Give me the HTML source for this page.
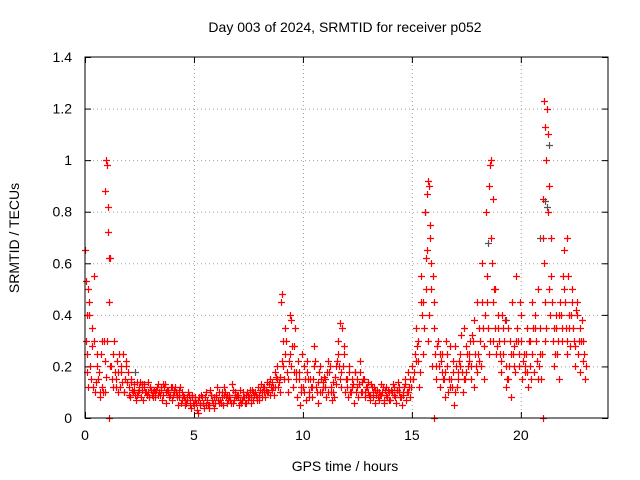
<!DOCTYPE html>
<html><head><meta charset="utf-8"><style>
body{margin:0;background:#fff;}
svg{display:block;font-family:"Liberation Sans",sans-serif;}
</style></head><body>
<svg id="chart" width="640" height="480" viewBox="0 0 640 480">
<text x="345" y="32" font-size="14" text-anchor="middle">Day 003 of 2024, SRMTID for receiver p052</text>
<text transform="translate(19,238) rotate(-90)" font-size="14" text-anchor="middle">SRMTID / TECUs</text>
<text x="345" y="471" font-size="14" text-anchor="middle">GPS time / hours</text>
<g id="grid"></g><g id="ticks"></g><g id="marks"></g>
<rect x="85" y="57" width="523" height="361" fill="none" stroke="#000" stroke-width="1"/>
</svg>
<script>
const xTicks=[0,5,10,15,20];
const yTicks=[0,0.2,0.4,0.6,0.8,1,1.2,1.4];
const yTickLabels=["0","0.2","0.4","0.6","0.8","1","1.2","1.4"];
const hours=[0,0.2,0.4,0.6,0.8,1,1.2,1.4,1.6,1.8,2,2.2,2.4,2.6,2.8,3,3.2,3.4,3.6,3.8,4,4.2,4.4,4.6,4.8,5,5.2,5.4,5.6,5.8,6,6.2,6.4,6.6,6.8,7,7.2,7.4,7.6,7.8,8,8.2,8.4,8.6,8.8,9,9.2,9.4,9.6,9.8,10,10.2,10.4,10.6,10.8,11,11.2,11.4,11.6,11.8,12,12.2,12.4,12.6,12.8,13,13.2,13.4,13.6,13.8,14,14.2,14.4,14.6,14.8,15,15.2,15.4,15.6,15.8,16,16.2,16.4,16.6,16.8,17,17.2,17.4,17.6,17.8,18,18.2,18.4,18.6,18.8,19,19.2,19.4,19.6,19.8,20,20.2,20.4,20.6,20.8,21,21.2,21.4,21.6,21.8,22,22.2,22.4,22.6,22.8];
const sa=[.65,.45,.30,.15,.12,.98,.20,.15,.12,.10,.12,.10,.09,.11,.10,.12,.08,.10,.09,.11,.07,.09,.06,.05,.07,.05,.02,.06,.07,.09,.08,.07,.12,.09,.06,.08,.07,.06,.08,.10,.09,.12,.10,.14,.20,.45,.25,.40,.28,.18,.12,.22,.08,.12,.20,.15,.18,.10,.30,.35,.12,.10,.18,.22,.15,.10,.08,.11,.09,.12,.07,.09,.12,.10,.18,.20,.35,.55,.80,.90,.45,.30,.25,.20,.15,.28,.20,.35,.25,.30,.45,.60,.80,.98,.50,.30,.25,.35,.45,.55,.40,.20,.30,.18,.50,.85,1.20,.55,.40,.45,.65,.40,.35,.45,.38];
const sb=[.25,.15,.10,.08,.30,.72,.12,.22,.18,.22,.08,.13,.12,.07,.14,.09,.11,.12,.13,.08,.10,.05,.10,.08,.04,.08,.06,.04,.05,.06,.12,.10,.08,.07,.10,.05,.10,.09,.11,.07,.13,.08,.15,.09,.12,.30,.18,.20,.15,.05,.20,.10,.15,.06,.10,.08,.12,.16,.20,.25,.08,.15,.12,.10,.08,.07,.12,.07,.12,.08,.10,.06,.08,.15,.12,.15,.22,.40,.50,.60,.25,.12,.15,.10,.22,.12,.32,.18,.30,.12,.22,.35,.45,.60,.25,.18,.38,.20,.28,.30,.15,.35,.15,.40,.25,.60,.90,.30,.25,.30,.35,.28,.20,.30,.22];
const sc=[.12,.35,.20,.25,.10,.20,.30,.10,.25,.14,.15,.07,.14,.13,.08,.10,.13,.07,.06,.12,.12,.11,.08,.10,.09,.03,.09,.10,.11,.04,.06,.05,.06,.13,.08,.11,.06,.08,.07,.12,.08,.10,.12,.18,.16,.15,.10,.12,.08,.12,.07,.15,.28,.18,.14,.22,.07,.13,.12,.10,.18,.06,.08,.14,.12,.13,.06,.09,.06,.10,.13,.11,.05,.07,.08,.25,.12,.25,.30,.20,.15,.22,.08,.28,.05,.18,.10,.25,.15,.20,.30,.15,.25,.30,.35,.40,.12,.08,.18,.20,.25,.12,.45,.22,.15,.30,.40,.20,.15,.55,.25,.50,.42,.18,.15];
const sd=[.30,.20,.55,.18,.10,.30,.15,.12,.20,.15,.09,.11,.10,.13,.09,.11,.10,.09,.12,.10,.09,.08,.07,.06,.05,.07,.08,.06,.05,.07,.09,.06,.10,.08,.07,.09,.08,.10,.06,.09,.11,.10,.13,.12,.15,.22,.30,.25,.35,.15,.10,.15,.12,.10,.15,.12,.20,.08,.25,.20,.15,.12,.10,.18,.10,.09,.10,.08,.10,.09,.11,.08,.10,.12,.10,.15,.28,.45,.62,.70,.35,.20,.15,.25,.12,.20,.25,.15,.22,.38,.25,.45,.55,.70,.35,.25,.30,.15,.25,.35,.30,.25,.20,.35,.20,.70,.80,.45,.35,.40,.45,.35,.30,.25,.30];
const se=[.18,.28,.14,.10,.22,.45,.25,.18,.14,.20,.14,.09,.11,.12,.10,.08,.12,.11,.10,.09,.11,.08,.09,.07,.08,.06,.05,.08,.04,.08,.07,.08,.09,.06,.09,.07,.08,.07,.10,.08,.10,.11,.09,.12,.14,.20,.15,.28,.18,.10,.15,.08,.20,.14,.12,.18,.10,.20,.15,.28,.20,.13,.15,.10,.12,.09,.11,.10,.07,.11,.10,.11,.08,.13,.15,.18,.30,.45,.65,.50,.20,.25,.18,.15,.18,.15,.18,.28,.20,.25,.35,.28,.35,.45,.28,.22,.20,.30,.20,.25,.22,.18,.25,.30,.35,.45,.50,.35,.30,.35,.30,.40,.28,.35,.25];
const sf=[.40,.12,.25,.30,.16,.62,.18,.25,.10,.18,.11,.14,.08,.10,.12,.11,.09,.13,.11,.12,.10,.12,.07,.09,.06,.07,.08,.05,.09,.06,.10,.09,.07,.11,.09,.06,.09,.11,.09,.07,.12,.14,.11,.16,.10,.35,.22,.18,.22,.25,.18,.12,.22,.10,.16,.10,.14,.22,.18,.15,.10,.18,.13,.15,.14,.12,.09,.13,.11,.07,.12,.14,.09,.10,.12,.22,.18,.35,.40,.55,.28,.18,.30,.12,.10,.22,.15,.20,.32,.18,.20,.40,.30,.50,.40,.35,.15,.25,.30,.45,.18,.30,.35,.15,.25,.35,.70,.25,.40,.50,.55,.45,.40,.30,.20];
const extraHours=[0.05,0.1,0.15,0.9,0.95,1.05,1.1,15.7,15.75,15.85,18.55,18.65,18.7,21.05,21.1,21.15,21.25,1.1,16.0,21.0,9.05,9.45,11.7,22.1];
const extraVals=[.53,.40,.50,.88,1.0,.82,.62,.87,.92,.75,.90,1.0,.85,1.23,1.13,1.0,1.10,0,0,0,.48,.38,.37,.70];
const grayHours=[15.6,18.5,21.1,21.2,21.3,2.3,19.3,20.9];
const grayVals=[.80,.68,.84,.82,1.06,.18,.38,.70];

const X=h=>85+h*(523/24);
const Y=v=>418-v*(361/1.4);
const NS="http://www.w3.org/2000/svg";
const grid=document.getElementById('grid'),ticks=document.getElementById('ticks'),marks=document.getElementById('marks');
function ln(p,x1,y1,x2,y2,st,dash){const l=document.createElementNS(NS,'line');l.setAttribute('x1',x1);l.setAttribute('y1',y1);l.setAttribute('x2',x2);l.setAttribute('y2',y2);l.setAttribute('stroke',st);if(dash)l.setAttribute('stroke-dasharray',dash);p.appendChild(l);return l;}
function tx(p,x,y,s,anc){const t=document.createElementNS(NS,'text');t.setAttribute('x',x);t.setAttribute('y',y);t.setAttribute('font-size','14');t.setAttribute('text-anchor',anc);t.textContent=s;p.appendChild(t);return t;}
xTicks.forEach(v=>{const x=X(v)+0.5;
 if(v>0){const g=ln(grid,x,57,x,418,'#a0a0a0','1,3');
 
 }
 ln(ticks,x,418,x,412,'#000');ln(ticks,x,57,x,63,'#000');
 const t=tx(ticks,X(v),440,String(v),'middle');
 
 });
yTicks.forEach((v,i)=>{const y=Y(v)+0.5;
 if(v>0&&v<1.4){const g=ln(grid,85,y,608,y,'#a0a0a0','1,3');
 
 }
 ln(ticks,85,y,91,y,'#000');ln(ticks,608,y,602,y,'#000');
 const t=tx(ticks,72,Y(v)+5,yTickLabels[i],'end');
 
 });
function plus(h,v,c,name){const x=Math.round(X(h))+0.5,y=Math.round(Y(v))+0.5;
 const p=document.createElementNS(NS,'path');
 p.setAttribute('d',`M${x-3.5} ${y}H${x+3.5}M${x} ${y-3.5}V${y+3.5}`);
 p.setAttribute('stroke',c);p.setAttribute('stroke-width','1.2');p.setAttribute('fill','none');
 
 
 marks.appendChild(p);}
grayHours.forEach((h,i)=>plus(h,grayVals[i],'#555555','gray-data-point'));
const seriesList=[sa,sb,sc,sd,se,sf];
const offs=[0,0.07,0.13,0.03,0.1,0.17];
seriesList.forEach((s,k)=>hours.forEach((h,i)=>plus(h+offs[k],s[i],'#ff0000','data-point')));
extraHours.forEach((h,i)=>plus(h,extraVals[i],'#ff0000','data-point'));
</script>
</body></html>
